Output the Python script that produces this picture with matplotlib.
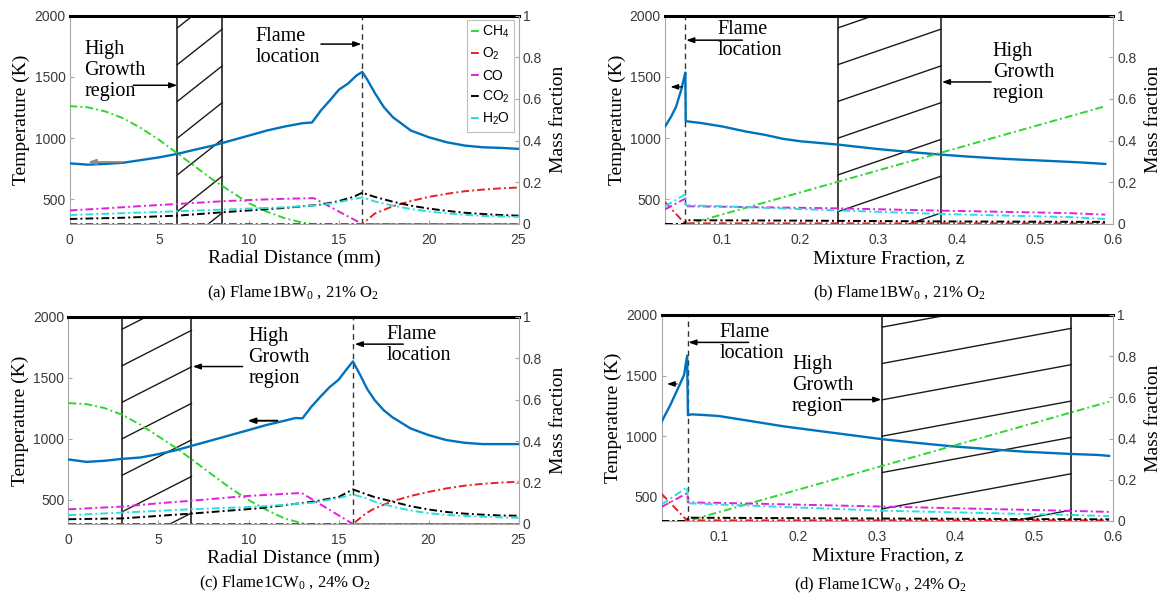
import numpy as np
import matplotlib.pyplot as plt

plt.rcParams['font.family'] = 'Liberation Sans'
plt.rcParams['mathtext.fontset'] = 'custom'
plt.rcParams['mathtext.rm'] = 'Liberation Serif'
plt.rcParams['mathtext.it'] = 'Liberation Serif:italic'
plt.rcParams['mathtext.sf'] = 'Liberation Sans'

SERIF = 'Liberation Serif'

# ---------------- data ----------------
species_names = ['CH4', 'O2', 'CO', 'CO2', 'H2O']
legend_labels = [r'CH$_\mathsf{4}$', r'O$_\mathsf{2}$', 'CO', r'CO$_\mathsf{2}$', r'H$_\mathsf{2}$O']

# (a) Flame1BW0, 21% O2 -- vs radial distance (mm)
a_T_r = [0, 1, 2, 3, 4, 5, 6, 7, 8, 9, 10, 11, 12, 13, 13.5, 14, 14.5, 15, 15.5,
         16, 16.3, 16.6, 17, 17.5, 18, 19, 20, 21, 22, 23, 24, 25]
a_T = [795, 784, 790, 800, 822, 844, 872, 907, 940, 981, 1022, 1063, 1096, 1123, 1128,
       1227, 1309, 1396, 1445, 1514, 1541, 1473, 1369, 1254, 1172, 1063, 1008, 967, 940,
       926, 921, 913]
a_ch4_r = [0, 1, 2, 3, 4, 5, 6, 7, 8, 9, 10, 11, 12, 13, 13.5, 25]
a_ch4 = [0.566, 0.56, 0.54, 0.507, 0.459, 0.403, 0.339, 0.275, 0.211, 0.155, 0.099,
         0.059, 0.027, 0.006, 0, 0]
a_o2_r = [0, 16.3, 17, 18, 19, 20, 21, 22, 23, 24, 25]
a_o2 = [0, 0, 0.05, 0.085, 0.11, 0.13, 0.145, 0.157, 0.165, 0.171, 0.175]
a_co_r = [0, 2, 4, 6, 8.5, 10, 12, 13.6, 16.3, 25]
a_co = [0.065, 0.075, 0.086, 0.096, 0.109, 0.115, 0.121, 0.124, 0, 0]
a_co2_r = [0, 3, 6, 8.5, 10, 12, 14, 15, 15.8, 16.3, 17, 18, 19, 20, 21, 22, 23, 24, 25]
a_co2 = [0.024, 0.03, 0.04, 0.056, 0.065, 0.077, 0.093, 0.11, 0.13, 0.15, 0.13, 0.107,
         0.088, 0.074, 0.063, 0.054, 0.048, 0.043, 0.04]
a_h2o_r = [0, 3, 6, 8.5, 10, 12, 14, 15, 16.3, 17, 18, 19, 20, 21, 22, 23, 24, 25]
a_h2o = [0.043, 0.052, 0.061, 0.069, 0.074, 0.08, 0.091, 0.105, 0.128, 0.108, 0.088,
         0.072, 0.06, 0.051, 0.044, 0.039, 0.036, 0.034]
a_region = [6.0, 8.5]
a_flame = 16.3

# (b) Flame1BW0, 21% O2 -- vs mixture fraction
b_T_z = [0.027, 0.0347, 0.041, 0.0475, 0.0517, 0.053, 0.0535, 0.074, 0.1, 0.13, 0.155,
         0.178, 0.2, 0.248, 0.297, 0.344, 0.38, 0.415, 0.462, 0.51, 0.557, 0.59]
b_T = [1094, 1175, 1255, 1390, 1500, 1535, 1139, 1123, 1096, 1055, 1027, 995, 975, 948,
       913, 885, 866, 850, 831, 817, 803, 790]
b_ch4_z = [0.027, 0.057, 0.59]
b_ch4 = [0, 0, 0.565]
b_o2_z = [0.027, 0.053, 0.0535, 0.59]
b_o2 = [0.105, 0.0, 0.003, 0.003]
b_co_z = [0.027, 0.053, 0.0535, 0.1, 0.248, 0.38, 0.545, 0.59]
b_co = [0.07, 0.122, 0.085, 0.083, 0.075, 0.064, 0.052, 0.045]
b_co2_z = [0.027, 0.053, 0.0535, 0.2, 0.4, 0.59]
b_co2 = [0.0, 0.0, 0.018, 0.016, 0.012, 0.01]
b_h2o_z = [0.027, 0.053, 0.0535, 0.1, 0.248, 0.38, 0.545, 0.59]
b_h2o = [0.085, 0.143, 0.09, 0.085, 0.065, 0.048, 0.033, 0.024]
b_region = [0.248, 0.38]
b_flame = 0.053

# (c) Flame1CW0, 24% O2 -- vs radial distance (mm)
c_T_r = [0, 1, 2, 3, 4, 5, 6, 7, 8, 9, 10, 11, 12, 12.6, 13, 13.5, 14, 14.5, 15, 15.5,
         15.8, 16.2, 16.6, 17, 17.5, 18, 19, 20, 21, 22, 23, 24, 25]
c_T = [830, 810, 819, 835, 846, 874, 907, 948, 989, 1030, 1071, 1113, 1148, 1170, 1168,
       1264, 1346, 1423, 1484, 1580, 1635, 1525, 1407, 1319, 1236, 1176, 1085, 1030, 989,
       967, 956, 956, 956]
c_ch4_r = [0, 1, 2, 3, 4, 5, 6, 7, 8, 9, 10, 11, 12, 13, 13.2, 25]
c_ch4 = [0.584, 0.579, 0.56, 0.527, 0.479, 0.423, 0.366, 0.302, 0.237, 0.173, 0.116,
         0.068, 0.027, 0.003, 0, 0]
c_o2_r = [0, 15.8, 16.5, 17, 18, 19, 20, 21, 22, 23, 24, 25]
c_o2 = [0, 0, 0.05, 0.075, 0.11, 0.135, 0.155, 0.172, 0.185, 0.194, 0.2, 0.204]
c_co_r = [0, 3, 5, 6.8, 9.7, 12.95, 15.8, 25]
c_co = [0.071, 0.084, 0.1, 0.112, 0.134, 0.15, 0, 0]
c_co2_r = [0, 3, 6.8, 10.6, 13.6, 15, 15.8, 16.5, 17, 18, 19, 20, 21, 22, 23, 24, 25]
c_co2 = [0.023, 0.027, 0.05, 0.076, 0.108, 0.13, 0.167, 0.145, 0.13, 0.108, 0.086, 0.07,
         0.058, 0.05, 0.045, 0.041, 0.04]
c_h2o_r = [0, 3, 6.8, 10.6, 13.6, 15, 15.8, 16.5, 17, 18, 19, 20, 21, 22, 23, 24, 25]
c_h2o = [0.043, 0.055, 0.071, 0.084, 0.103, 0.125, 0.143, 0.125, 0.108, 0.084, 0.065,
         0.052, 0.044, 0.039, 0.035, 0.032, 0.03]
c_region = [2.98, 6.83]
c_flame = 15.8

# (d) Flame1CW0, 24% O2 -- vs mixture fraction
d_T_z = [0.027, 0.038, 0.0468, 0.0556, 0.0595, 0.0605, 0.065, 0.08, 0.1, 0.135, 0.182,
         0.229, 0.307, 0.346, 0.393, 0.44, 0.487, 0.547, 0.581, 0.595]
d_T = [1118, 1255, 1379, 1505, 1665, 1173, 1180, 1175, 1166, 1130, 1081, 1041, 975, 948,
       918, 894, 872, 853, 845, 837]
d_ch4_z = [0.027, 0.06, 0.595]
d_ch4 = [0, 0, 0.579]
d_o2_z = [0.027, 0.06, 0.0605, 0.595]
d_o2 = [0.132, 0, 0.003, 0.003]
d_co_z = [0.027, 0.0595, 0.0605, 0.1, 0.307, 0.547, 0.595]
d_co = [0.068, 0.135, 0.09, 0.088, 0.07, 0.049, 0.044]
d_co2_z = [0.027, 0.0595, 0.0605, 0.3, 0.595]
d_co2 = [0, 0, 0.016, 0.012, 0.008]
d_h2o_z = [0.027, 0.0595, 0.0605, 0.1, 0.307, 0.547, 0.595]
d_h2o = [0.08, 0.164, 0.086, 0.08, 0.05, 0.029, 0.024]
d_region = [0.307, 0.547]
d_flame = 0.060

r_ticks = [0, 5, 10, 15, 20, 25]
z_ticks = [0.1, 0.2, 0.3, 0.4, 0.5, 0.6]
T_ticks = [500, 1000, 1500, 2000]
Y_ticks = [0, 0.2, 0.4, 0.6, 0.8, 1]
Y_ticklabels = ['0', '0.2', '0.4', '0.6', '0.8', '1']

captions = [r'(a) Flame1BW$_\mathrm{0}$ , 21% O$_\mathrm{2}$',
            r'(b) Flame1BW$_\mathrm{0}$ , 21% O$_\mathrm{2}$',
            r'(c) Flame1CW$_\mathrm{0}$ , 24% O$_\mathrm{2}$',
            r'(d) Flame1CW$_\mathrm{0}$ , 24% O$_\mathrm{2}$']

# ---------------- styling ----------------
sp_colors = ['#2fd62f', '#e82020', '#e020e0', '#000000', '#28dede']
T_color = '#0072BD'
spine_gray = '#a8a8a8'
tick_gray = '#3a3a3a'
ann_fs = 14.5


def arrow(ax, tail, head, color='black', lw=1.1):
    ax.annotate('', xy=head, xytext=tail,
                arrowprops=dict(arrowstyle='-|>,head_length=0.45,head_width=0.16',
                                color=color, lw=lw, shrinkA=0, shrinkB=0))


def panel(rect, T_x, T, sp_x, sp_y, region, flame, xlim, xticks, xlabel, legend=False):
    ax = fig.add_axes(rect)
    ax2 = ax.twinx()

    # high growth region, hatched
    for xv in region:
        ax.plot([xv, xv], [300, 2000], color='#333333', lw=1.3, zorder=2)
    for yl in np.arange(1900, 0, -300):
        ax.plot(region, [yl, yl + 290], color='#1a1a1a', lw=1.0, zorder=2)

    # flame location
    ax.plot([flame, flame], [300, 2000], color='#333333', lw=1.0,
            dashes=(4, 3), zorder=2)

    ax.plot(T_x, T, color=T_color, lw=1.7, zorder=3)

    for xs, ys, c, lab in zip(sp_x, sp_y, sp_colors, legend_labels):
        ax2.plot(xs, ys, color=c, lw=1.4, dashes=(4, 1.6, 1, 1.6), label=lab)

    ax.set_xlim(xlim)
    ax.set_ylim(300, 2000)
    ax2.set_ylim(0, 1)
    ax.set_xticks(xticks)
    ax.set_xticklabels([f'{v:g}' for v in xticks])
    ax.set_yticks(T_ticks)
    ax2.set_yticks(Y_ticks)
    ax2.set_yticklabels(Y_ticklabels)

    ax.set_xlabel(xlabel, family=SERIF, fontsize=14, labelpad=2)
    ax.set_ylabel('Temperature (K)', family=SERIF, fontsize=14, labelpad=3)
    ax2.set_ylabel('Mass fraction', family=SERIF, fontsize=14, labelpad=6)

    for a in (ax, ax2):
        a.tick_params(direction='in', length=3, width=0.8, color=spine_gray,
                      labelcolor=tick_gray, labelsize=10, pad=3)
    ax.tick_params(axis='x', pad=6.5)
    ax.spines['left'].set_color(spine_gray)
    ax.spines['bottom'].set_color(spine_gray)
    ax.spines['right'].set_visible(False)
    ax.spines['top'].set_color('black')
    ax.spines['top'].set_linewidth(2.2)
    ax2.spines['left'].set_visible(False)
    ax2.spines['bottom'].set_visible(False)
    ax2.spines['top'].set_visible(False)
    ax2.spines['right'].set_color(spine_gray)

    if legend:
        leg = ax2.legend(loc='upper right', fontsize=10, frameon=True, fancybox=False,
                         edgecolor='#b0b0b0', handlelength=0.7, handletextpad=0.12,
                         labelspacing=0.45, borderpad=0.3, borderaxespad=0.3)
        leg.get_frame().set_linewidth(0.8)
    return ax, ax2


fig = plt.figure(figsize=(11.61, 6.0), dpi=100)

# (a)
ax, ax2 = panel([0.0599, 0.6267, 0.3867, 0.3472], a_T_r, a_T,
                [a_ch4_r, a_o2_r, a_co_r, a_co2_r, a_h2o_r],
                [a_ch4, a_o2, a_co, a_co2, a_h2o],
                a_region, a_flame, (0, 25), r_ticks, 'Radial Distance (mm)', legend=True)
ax.text(0.82, 1555, 'High\nGrowth\nregion', family=SERIF, fontsize=ann_fs,
        ha='left', va='center', linespacing=1.15)
arrow(ax, (3.55, 1432), (6.0, 1432))
ax.text(10.35, 1742, 'Flame\nlocation', family=SERIF, fontsize=ann_fs,
        ha='left', va='center', linespacing=1.15)
arrow(ax, (14.0, 1768), (16.25, 1768))
arrow(ax, (2.93, 806), (1.03, 806), color='#8a8a8a', lw=1.3)

# (b)
ax, ax2 = panel([0.5728, 0.6267, 0.3859, 0.3472], b_T_z, b_T,
                [b_ch4_z, b_o2_z, b_co_z, b_co2_z, b_h2o_z],
                [b_ch4, b_o2, b_co, b_co2, b_h2o],
                b_region, b_flame, (0.027, 0.6), z_ticks, 'Mixture Fraction, z')
ax.text(0.094, 1800, 'Flame\nlocation', family=SERIF, fontsize=ann_fs,
        ha='left', va='center', linespacing=1.15)
arrow(ax, (0.126, 1800), (0.054, 1800))
ax.text(0.446, 1533, 'High\nGrowth\nregion', family=SERIF, fontsize=ann_fs,
        ha='left', va='center', linespacing=1.15)
arrow(ax, (0.444, 1459), (0.381, 1459))
arrow(ax, (0.0495, 1419), (0.034, 1419), lw=0.9)

# (c)
ax, ax2 = panel([0.059, 0.1267, 0.3876, 0.345], c_T_r, c_T,
                [c_ch4_r, c_o2_r, c_co_r, c_co2_r, c_h2o_r],
                [c_ch4, c_o2, c_co, c_co2, c_h2o],
                c_region, c_flame, (0, 25), r_ticks, 'Radial Distance (mm)')
ax.text(9.98, 1670, 'High\nGrowth\nregion', family=SERIF, fontsize=ann_fs,
        ha='left', va='center', linespacing=1.15)
arrow(ax, (9.67, 1593), (6.9, 1593))
ax.text(17.65, 1769, 'Flame\nlocation', family=SERIF, fontsize=ann_fs,
        ha='left', va='center', linespacing=1.15)
arrow(ax, (18.6, 1777), (15.9, 1777))
arrow(ax, (11.6, 1148), (9.94, 1148), lw=1.4)

# (d)
ax, ax2 = panel([0.5698, 0.1317, 0.3889, 0.3433], d_T_z, d_T,
                [d_ch4_z, d_o2_z, d_co_z, d_co2_z, d_h2o_z],
                [d_ch4, d_o2, d_co, d_co2, d_h2o],
                d_region, d_flame, (0.027, 0.6), z_ticks, 'Mixture Fraction, z')
ax.text(0.101, 1769, 'Flame\nlocation', family=SERIF, fontsize=ann_fs,
        ha='left', va='center', linespacing=1.15)
arrow(ax, (0.1376, 1774), (0.061, 1774))
ax.text(0.1925, 1416, 'High\nGrowth\nregion', family=SERIF, fontsize=ann_fs,
        ha='left', va='center', linespacing=1.15)
arrow(ax, (0.255, 1302), (0.306, 1302))
arrow(ax, (0.0467, 1431), (0.034, 1431), lw=0.9)

# captions under each panel
cap_pos = [(293, 293), (899, 293), (285, 583), (880, 585)]
for (px, py), cap in zip(cap_pos, captions):
    fig.text(px / 1161, 1 - py / 600, cap, family=SERIF, fontsize=12,
             ha='center', va='center')

fig.savefig('out.png', dpi=100, facecolor='white')
